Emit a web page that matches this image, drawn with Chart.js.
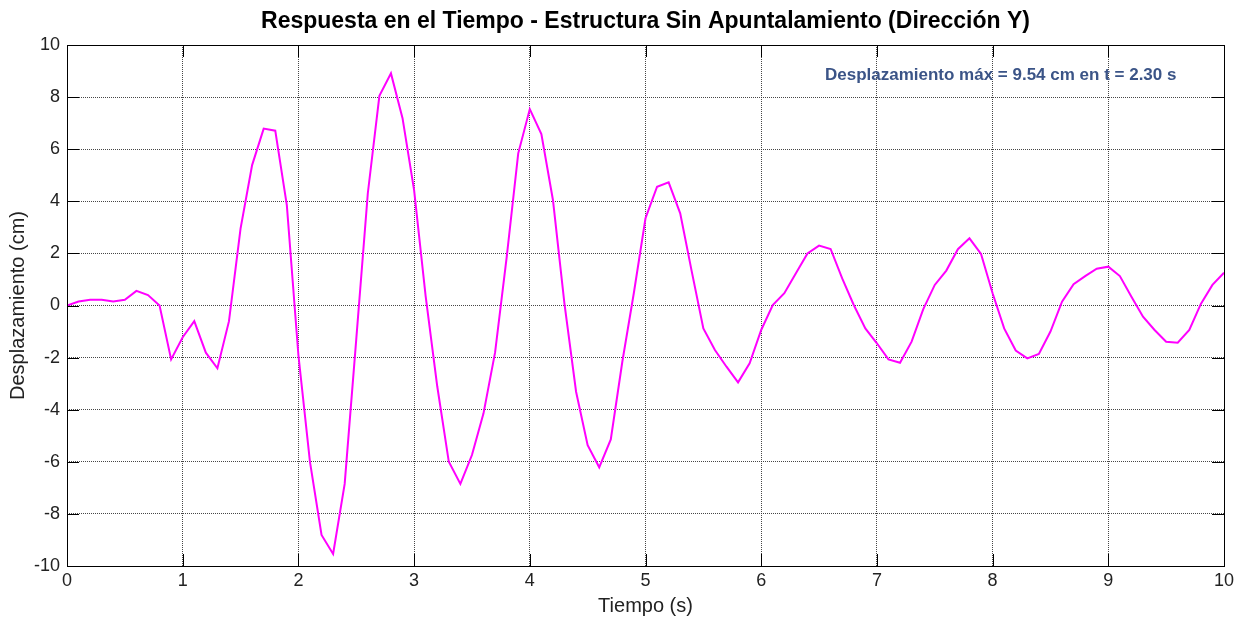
<!DOCTYPE html>
<html>
<head>
<meta charset="utf-8">
<script src="https://cdn.jsdelivr.net/npm/chart.js@4.4.1/dist/chart.umd.min.js"></script>
<style>
  html, body { margin: 0; padding: 0; background: #ffffff; }
  #wrap { width: 1241px; height: 620px; }
</style>
</head>
<body>
<div id="wrap"><canvas id="c" width="1241" height="620"></canvas></div>
<script>
// Time samples (s)
const tiempo = [
  0.0, 0.1, 0.2, 0.3, 0.4, 0.5, 0.6, 0.7, 0.8, 0.9,
  1.0, 1.1, 1.2, 1.3, 1.4, 1.5, 1.6, 1.7, 1.8, 1.9,
  2.0, 2.1, 2.2, 2.3, 2.4, 2.5, 2.6, 2.7, 2.8, 2.9,
  3.0, 3.1, 3.2, 3.3, 3.4, 3.5, 3.6, 3.7, 3.8, 3.9,
  4.0, 4.1, 4.2, 4.3, 4.4, 4.5, 4.6, 4.7, 4.8, 4.9,
  5.0, 5.1, 5.2, 5.3, 5.4, 5.5, 5.6, 5.7, 5.8, 5.9,
  6.0, 6.1, 6.2, 6.3, 6.4, 6.5, 6.6, 6.7, 6.8, 6.9,
  7.0, 7.1, 7.2, 7.3, 7.4, 7.5, 7.6, 7.7, 7.8, 7.9,
  8.0, 8.1, 8.2, 8.3, 8.4, 8.5, 8.6, 8.7, 8.8, 8.9,
  9.0, 9.1, 9.2, 9.3, 9.4, 9.5, 9.6, 9.7, 9.8, 9.9,
  10.0
];

// Displacement response (cm)
const desplazamiento = [
  0.00, 0.15, 0.22, 0.22, 0.15, 0.22, 0.56, 0.40, 0.00, -2.07,
  -1.22, -0.60, -1.81, -2.41, -0.60, 2.95, 5.39, 6.79, 6.71, 3.85,
  -1.90, -6.00, -8.81, -9.54, -6.85, -1.30, 4.31, 8.05, 8.91, 7.19,
  4.43, 0.35, -3.10, -6.00, -6.85, -5.74, -4.14, -1.80, 1.85, 5.84,
  7.54, 6.58, 4.05, 0.05, -3.31, -5.36, -6.21, -5.14, -2.15, 0.50,
  3.35, 4.56, 4.73, 3.54, 1.30, -0.88, -1.71, -2.35, -2.95, -2.22,
  -0.94, 0.02, 0.47, 1.24, 2.00, 2.30, 2.17, 1.04, 0.02, -0.88,
  -1.45, -2.07, -2.20, -1.39, -0.15, 0.79, 1.34, 2.16, 2.58, 1.98,
  0.47, -0.88, -1.73, -2.03, -1.86, -1.00, 0.15, 0.82, 1.13, 1.41,
  1.49, 1.13, 0.34, -0.43, -0.94, -1.39, -1.43, -0.94, 0.06, 0.79,
  1.26
];

// Peak response shown in the note
const tPico = 2.30;
const desplPico = 9.54;
const nota = 'Desplazamiento máx = ' + desplPico.toFixed(2) + ' cm en t = ' + tPico.toFixed(2) + ' s';
const notaPos = { x: 8.07, y: 8.85 };

const puntos = tiempo.map((t, i) => ({ x: t, y: desplazamiento[i] }));

// Axes box with inward tick marks on all four sides
const marcoEjes = {
  id: 'marcoEjes',
  afterDraw(chart) {
    const { ctx, chartArea: a, scales } = chart;
    const len = 12;
    ctx.save();
    ctx.strokeStyle = '#000';
    ctx.lineWidth = 1;
    ctx.beginPath();
    scales.x.ticks.forEach(tk => {
      const px = Math.round(scales.x.getPixelForValue(tk.value)) + 0.5;
      ctx.moveTo(px, a.bottom); ctx.lineTo(px, a.bottom - len);
      ctx.moveTo(px, a.top); ctx.lineTo(px, a.top + len);
    });
    scales.y.ticks.forEach(tk => {
      const py = Math.round(scales.y.getPixelForValue(tk.value)) + 0.5;
      ctx.moveTo(a.left, py); ctx.lineTo(a.left + len, py);
      ctx.moveTo(a.right, py); ctx.lineTo(a.right - len, py);
    });
    ctx.stroke();
    ctx.strokeRect(Math.round(a.left) + 0.5, Math.round(a.top) + 0.5,
                   Math.round(a.right - a.left), Math.round(a.bottom - a.top));
    ctx.restore();
  }
};

// Text note placed in data coordinates
const notaPico = {
  id: 'notaPico',
  afterDatasetsDraw(chart) {
    const { ctx, scales } = chart;
    ctx.save();
    ctx.font = 'bold 17px "Liberation Sans", Arial, sans-serif';
    ctx.fillStyle = '#3b5487';
    ctx.textAlign = 'center';
    ctx.textBaseline = 'middle';
    ctx.fillText(nota, scales.x.getPixelForValue(notaPos.x), scales.y.getPixelForValue(notaPos.y));
    ctx.restore();
  }
};

const fuente = '"Liberation Sans", Arial, sans-serif';
const rejilla = {
  color: 'rgba(50,50,50,0.9)',
  lineWidth: 1,
  drawTicks: false
};

new Chart(document.getElementById('c'), {
  type: 'line',
  data: {
    datasets: [{
      data: puntos,
      borderColor: '#ff00ff',
      borderWidth: 2,
      pointRadius: 0,
      tension: 0,
      fill: false
    }]
  },
  options: {
    responsive: false,
    animation: false,
    events: [],
    layout: { padding: { left: 0, right: 17, top: 0, bottom: 0 } },
    plugins: {
      legend: { display: false },
      tooltip: { enabled: false },
      title: {
        display: true,
        fullSize: false,
        text: 'Respuesta en el Tiempo - Estructura Sin Apuntalamiento (Dirección Y)',
        color: '#000',
        font: { family: fuente, size: 23, weight: 'bold' },
        padding: { top: 8, bottom: 9.4 }
      }
    },
    scales: {
      x: {
        type: 'linear',
        min: 0,
        max: 10,
        ticks: {
          stepSize: 1,
          color: '#222',
          padding: 4,
          font: { family: fuente, size: 18 },
          callback: v => String(v)
        },
        grid: { ...rejilla },
        border: { display: false, dash: [1, 1] },
        title: {
          display: true,
          text: 'Tiempo (s)',
          color: '#222',
          font: { family: fuente, size: 20 },
          padding: { top: 0, bottom: 2 }
        },
        afterFit(scale) { scale.height = 54; }
      },
      y: {
        min: -10,
        max: 10,
        ticks: {
          stepSize: 2,
          color: '#222',
          padding: 7,
          font: { family: fuente, size: 18 },
          callback: v => String(v)
        },
        grid: { ...rejilla },
        border: { display: false, dash: [1, 1] },
        title: {
          display: true,
          text: 'Desplazamiento (cm)',
          color: '#222',
          font: { family: fuente, size: 20 },
          padding: { top: 6, bottom: 0 }
        },
        afterFit(scale) { scale.width = 67; }
      }
    }
  },
  plugins: [marcoEjes, notaPico]
});
</script>
</body>
</html>
